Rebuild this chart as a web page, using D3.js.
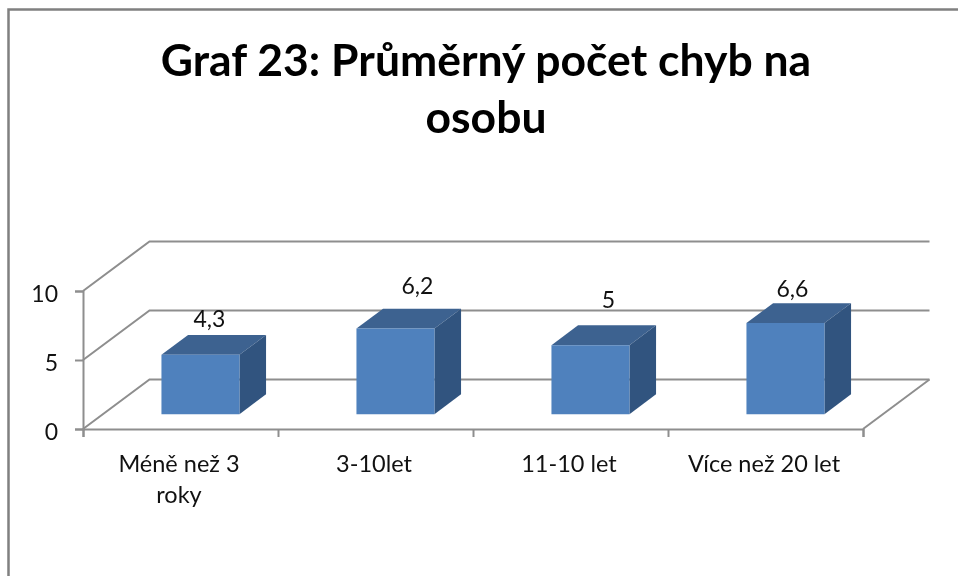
<!DOCTYPE html>
<html><head><meta charset="utf-8">
<script src="https://cdn.jsdelivr.net/npm/d3@7"></script>
<style>
html,body{margin:0;padding:0;background:#fff;overflow:hidden}
svg{display:block;filter:blur(0.5px)}
text{font-family:Lato,"Open Sans",sans-serif;fill:#111}
</style></head><body>
<svg id="c" width="958" height="576"></svg>
<script>
const titleLines = ["Graf 23: Průměrný počet chyb na", "osobu"];
const categories = ["Méně než 3 roky", "3-10let", "11-10 let", "Více než 20 let"];
const categoryLines = [["Méně než 3", "roky"], ["3-10let"], ["11-10 let"], ["Více než 20 let"]];
const values = [4.3, 6.2, 5, 6.6];
const valueLabels = ["4,3", "6,2", "5", "6,6"];
const yTicks = [0, 5, 10];

// layout
const frameColor = "#808080", gridColor = "#8e8e8e";
const plot = {x0: 83, x1: 863, y0: 429, y1: 291};
const depth = {dx: 66.5, dy: -49.5};
const barDepth = {start: 0.3, end: 0.7};
const labelDx = [9, 22, 18, 7], labelDy = [-28, -34.6, -37, -26];

const svg = d3.select("#c");
svg.append("path").attr("d", "M8.5,576V9.5H958").attr("fill", "none")
  .attr("stroke", frameColor).attr("stroke-width", 2.5);

const x = d3.scaleBand().domain(categories).range([plot.x0, plot.x1]).paddingInner(0.6).paddingOuter(0.3);
const xTicksScale = d3.scaleLinear().domain([0, categories.length]).range([plot.x0, plot.x1]);
const y = d3.scaleLinear().domain([0, 10]).range([plot.y0, plot.y1]);

const g = svg.append("g");
const grid = g.append("g").attr("fill", "none").attr("stroke", gridColor).attr("stroke-width", 2);
yTicks.forEach(t => {
  const py = y(t);
  grid.append("path").attr("d",
    `M${plot.x0},${py}L${plot.x0 + depth.dx},${py + depth.dy}H${plot.x1 + depth.dx}`);
});
grid.append("path").attr("d",
  `M${plot.x1},${plot.y0}L${plot.x1 + depth.dx},${plot.y0 + depth.dy}`);

// bars
const bars = g.selectAll("g.bar").data(values).join("g").attr("class", "bar");
const pt = (bx, by, d) => [bx + depth.dx * d, by + depth.dy * d];
const poly = pts => "M" + pts.map(p => p.join(",")).join("L") + "Z";
bars.each(function (v, i) {
  const s = d3.select(this);
  const l = x(categories[i]), r = l + x.bandwidth();
  const b = y(0), t = y(v);
  const a = barDepth.start, e = barDepth.end;
  s.append("path").attr("fill", "#3d6290").attr("d",
    poly([pt(l, t, a), pt(r, t, a), pt(r, t, e), pt(l, t, e)]));
  s.append("path").attr("fill", "#31547f").attr("d",
    poly([pt(r, b, a), pt(r, t, a), pt(r, t, e), pt(r, b, e)]));
  s.append("path").attr("fill", "#4f81bd").attr("d",
    poly([pt(l, b, a), pt(r, b, a), pt(r, t, a), pt(l, t, a)]));
  const c = pt((l + r) / 2, t, a);
  s.append("text").attr("x", c[0] + labelDx[i]).attr("y", c[1] + labelDy[i])
    .attr("text-anchor", "middle").attr("font-size", 23).text(valueLabels[i]);
});

// axes
const yAxis = d3.axisLeft(y).tickValues(yTicks).tickSize(8).tickPadding(17).tickFormat(d3.format("d"));
const yg = svg.append("g").attr("transform", `translate(${plot.x0},0)`).call(yAxis);
const xAxis = d3.axisBottom(xTicksScale).tickValues(d3.range(categories.length + 1)).tickSize(8).tickFormat("");
const xg = svg.append("g").attr("transform", `translate(0,${plot.y0})`).call(xAxis);
[yg, xg].forEach(a => {
  a.selectAll("path.domain").attr("stroke", gridColor).attr("stroke-width", 2);
  a.selectAll("line").attr("stroke", gridColor).attr("stroke-width", 2);
});
yg.selectAll("text").attr("font-size", 23).attr("fill", "#111")
  .style("font-family", "Lato,sans-serif").attr("dy", "0.44em");

// category labels
categoryLines.forEach((lines, i) => {
  const cx = xTicksScale(i + 0.5) - 1.5;
  lines.forEach((ln, k) => {
    svg.append("text").attr("x", cx).attr("y", 472 + k * 31)
      .attr("text-anchor", "middle").attr("font-size", 23.5).text(ln);
  });
});

// title
titleLines.forEach((ln, k) => {
  svg.append("text").attr("transform", `translate(486,${76 + k * 57}) scale(1.035,1)`)
    .attr("text-anchor", "middle").attr("font-size", 43).attr("font-weight", 700)
    .style("fill", "#000").text(ln);
});
</script>
</body></html>
